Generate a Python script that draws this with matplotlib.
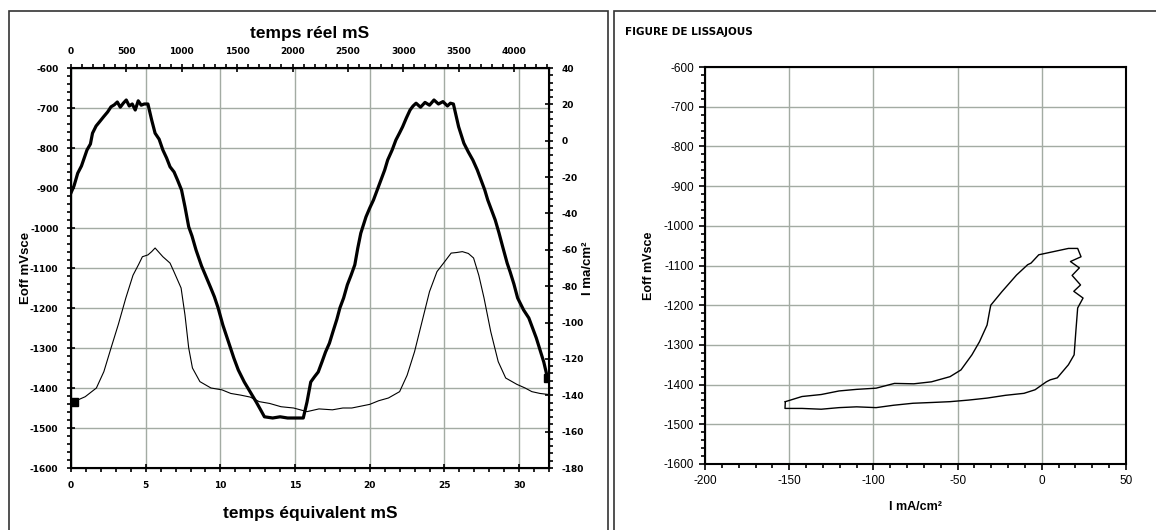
import numpy as np
import matplotlib.pyplot as plt
from matplotlib.patches import Rectangle
from matplotlib.ticker import MultipleLocator

plt.rcParams['font.family'] = ['Liberation Sans', 'DejaVu Sans']
plt.rcParams['axes.unicode_minus'] = False

# left panel: thick line, Eoff (mV) vs equivalent time (mS)
t_e = [0.0, 0.2, 0.45, 0.7, 1.07, 1.3, 1.44, 1.68, 1.9, 2.18, 2.45, 2.68, 2.9, 3.1, 3.3,
       3.5, 3.7, 3.9, 4.1, 4.3, 4.5, 4.7, 4.9, 5.15, 5.4, 5.63, 5.9, 6.15, 6.4, 6.63,
       6.9, 7.13, 7.4, 7.63, 7.88, 8.1, 8.37, 8.74, 9.0, 9.36, 9.6, 9.85, 10.17, 10.5,
       10.9, 11.2, 11.6, 12.0, 12.4, 12.7, 12.95, 13.5, 14.0, 14.5, 15.0, 15.55, 15.8,
       16.05, 16.3, 16.55, 16.8, 17.04, 17.3, 17.53, 17.8, 18.0, 18.25, 18.5, 18.75,
       19.0, 19.2, 19.4, 19.75, 20.0, 20.25, 20.5, 20.75, 21.0, 21.2, 21.5, 21.75,
       22.0, 22.2, 22.45, 22.7, 22.9, 23.1, 23.4, 23.7, 24.0, 24.3, 24.6, 24.9, 25.2,
       25.4, 25.6, 25.95, 26.3, 26.6, 26.9, 27.2, 27.45, 27.7, 27.9, 28.15, 28.4, 28.65,
       28.9, 29.2, 29.4, 29.65, 29.9, 30.3, 30.65, 30.9, 31.15, 31.4, 31.65, 31.9]
e_off = [-912, -895, -863, -845, -805, -790, -763, -745, -735, -722, -710, -697, -692,
         -685, -698, -688, -680, -695, -690, -705, -682, -693, -690, -690, -730, -763,
         -778, -805, -825, -847, -860, -880, -905, -947, -997, -1020, -1055, -1095,
         -1118, -1150, -1172, -1200, -1243, -1280, -1325, -1355, -1385, -1410, -1435,
         -1455, -1472, -1475, -1472, -1475, -1475, -1475, -1435, -1385, -1372, -1360,
         -1335, -1310, -1288, -1260, -1228, -1200, -1175, -1142, -1118, -1092, -1050,
         -1013, -972, -950, -930, -905, -880, -855, -830, -805, -780, -762, -747, -725,
         -705, -695, -688, -698, -686, -693, -680, -690, -684, -695, -688, -690, -747,
         -788, -810, -830, -855, -880, -905, -930, -955, -980, -1012, -1047, -1088,
         -1110, -1140, -1175, -1205, -1225, -1250, -1275, -1305, -1335, -1375]

# left panel: thin line, I (mA/cm2) on the right axis
t_i = [0.2, 0.95, 1.7, 2.2, 2.68, 3.17, 3.67, 4.15, 4.53, 4.78, 5.15, 5.4, 5.63, 5.9,
       6.15, 6.63, 6.89, 7.37, 7.63, 7.88, 8.13, 8.63, 9.37, 10.1, 10.7, 11.35, 12.0,
       12.6, 13.3, 14.06, 14.9, 15.8, 16.6, 17.5, 18.2, 18.8, 19.4, 20.0, 20.6, 21.25,
       22.0, 22.5, 23.0, 23.5, 24.0, 24.5, 24.97, 25.45, 25.8, 26.2, 26.6, 26.95, 27.3,
       27.65, 28.1, 28.6, 29.1, 29.85, 30.4, 30.85, 31.4, 31.9]
i_ma = [-143.5, -140.8, -136, -127, -114, -101, -86.5, -74, -68, -63.8, -62.8, -61,
        -59, -61.5, -63.8, -67.3, -72, -81, -95.8, -114, -125, -132.5, -136, -137,
        -139, -139.9, -141, -143.5, -144.5, -146.3, -147, -149, -147.5, -148, -147,
        -147, -146, -145, -143, -141.5, -138, -129, -116, -99.5, -83, -72, -67, -61.8,
        -61.5, -61, -62, -64.5, -74, -86.5, -105, -121.5, -130.5, -134, -136, -138,
        -139, -139.5]

# right panel: Lissajous loop, I (mA/cm2) vs Eoff (mV)
liss_i = [-152.3, -142.4, -131, -120.4, -110, -98.4, -87.5, -76, -65.5, -54.5, -48,
          -41.5, -37, -32.5, -31, -30.3, -23.7, -15, -8.4, -6.4, -1.8, 7, 15.8, 21.3,
          23.3, 17, 22.3, 18, 23, 19, 24.5, 21.3, 20.2, 19.2, 15.8, 9.2, 5, 2.7, -4,
          -10.6, -21.6, -32.5, -43.5, -54.5, -65, -76.5, -88, -98.4, -110, -120.4,
          -131, -142.4, -152.5, -152.3]
liss_e = [-1443, -1430, -1425, -1416, -1412, -1409, -1397, -1398, -1393, -1380, -1363,
          -1325, -1292, -1250, -1215, -1200, -1166, -1124, -1098, -1094, -1073, -1065,
          -1057, -1057, -1078, -1090, -1106, -1125, -1149, -1165, -1182, -1207, -1267,
          -1325, -1350, -1383, -1388, -1393, -1413, -1422, -1427, -1434, -1439, -1443,
          -1445, -1447, -1452, -1458, -1456, -1458, -1462, -1460, -1460, -1443]

W, H = 1156, 530
fig = plt.figure(figsize=(W / 100, H / 100), dpi=100)
grid_col = '#a3aba3'
tick_font = dict(fontsize=6.5, fontweight='bold', family=['DejaVu Sans'])

# panel frames
fig.add_artist(Rectangle((9 / W, -0.05), (608 - 9) / W, (H - 11) / H + 0.05,
                         transform=fig.transFigure, fill=False, lw=1.2, ec='#333333'))
fig.add_artist(Rectangle((614 / W, -0.05), 0.5, (H - 11) / H + 0.05,
                         transform=fig.transFigure, fill=False, lw=1.2, ec='#333333'))

# ---- left panel
ax = fig.add_axes([71 / W, (H - 468) / H, (549 - 71) / W, 400 / H])
ax.plot(t_e, e_off, color='black', lw=2.3)
ax.set_xlim(0, 32)
ax.set_ylim(-1600, -600)
ax.xaxis.set_major_locator(MultipleLocator(5))
ax.xaxis.set_minor_locator(MultipleLocator(1))
ax.yaxis.set_major_locator(MultipleLocator(100))
ax.yaxis.set_minor_locator(MultipleLocator(20))
ax.grid(True, which='major', color=grid_col, lw=1)
ax.set_axisbelow(True)
ax.tick_params(which='major', direction='inout', length=6, width=1.2, pad=6)
ax.tick_params(which='minor', direction='out', length=3, width=1.2)
for lab in ax.get_xticklabels() + ax.get_yticklabels():
    lab.set(**tick_font)
ax.set_xlabel('temps équivalent mS', fontsize=12.5, fontweight='bold', labelpad=12)
ax.set_ylabel('Eoff mVsce', fontsize=9.5, fontweight='bold')
ax.yaxis.set_label_coords(-0.082, 0.5)
for s in ax.spines.values():
    s.set_linewidth(1.5)

axr = ax.twinx()
axr.plot(t_i, i_ma, color='black', lw=0.8)
axr.plot(t_i[0], i_ma[0], 's', color='black', ms=6)
axr.set_ylim(-180, 40)
axr.yaxis.set_major_locator(MultipleLocator(20))
axr.yaxis.set_minor_locator(MultipleLocator(4))
axr.tick_params(which='major', direction='inout', length=6, width=1.2, pad=6)
axr.tick_params(which='minor', direction='out', length=3, width=1.2)
for lab in axr.get_yticklabels():
    lab.set(**tick_font)
axr.set_ylabel('I ma/cm²', fontsize=9.5, fontweight='bold')
axr.yaxis.set_label_coords(1.07, 0.5)
ax.plot(t_e[-1], e_off[-1], 's', color='black', ms=6, zorder=5)

axt = ax.twiny()
axt.set_xlim(0, 4316)
axt.xaxis.set_major_locator(MultipleLocator(500))
axt.xaxis.set_minor_locator(MultipleLocator(100))
axt.tick_params(which='major', direction='inout', length=6, width=1.2, pad=6)
axt.tick_params(which='minor', direction='out', length=3, width=1.2)
for lab in axt.get_xticklabels():
    lab.set(**tick_font)
axt.set_xlabel('temps réel mS', fontsize=12.5, fontweight='bold', labelpad=6)

# ---- right panel
ax2 = fig.add_axes([705 / W, (H - 464) / H, (1126 - 705) / W, 397 / H])
ax2.plot(liss_i, liss_e, color='black', lw=1.0)
ax2.set_xlim(-200, 50)
ax2.set_ylim(-1600, -600)
ax2.xaxis.set_major_locator(MultipleLocator(50))
ax2.xaxis.set_minor_locator(MultipleLocator(10))
ax2.yaxis.set_major_locator(MultipleLocator(100))
ax2.yaxis.set_minor_locator(MultipleLocator(20))
ax2.grid(True, which='major', color=grid_col, lw=1)
ax2.set_axisbelow(True)
ax2.tick_params(which='major', direction='out', length=4, width=1.2, labelsize=8.5, pad=4)
ax2.tick_params(which='minor', direction='out', length=3, width=1.2)
ax2.set_xlabel('I mA/cm²', fontsize=9, fontweight='bold', labelpad=10)
ax2.set_ylabel('Eoff mVsce', fontsize=9, fontweight='bold', labelpad=6)
for s in ax2.spines.values():
    s.set_linewidth(1.5)

fig.text(625 / W, 1 - 32 / H, 'FIGURE DE LISSAJOUS', fontsize=7.5, fontweight='heavy',
         family=['DejaVu Sans'], va='center', ha='left')

fig.savefig('out.png', dpi=100)
